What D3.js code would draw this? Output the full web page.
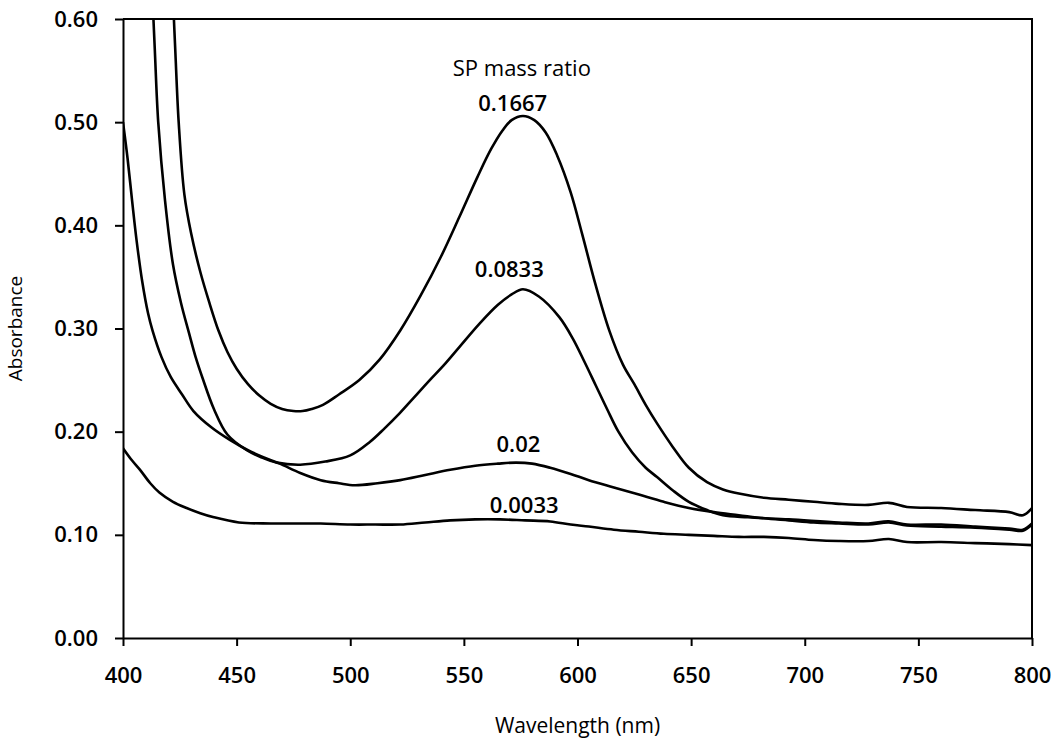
<!DOCTYPE html>
<html>
<head>
<meta charset="utf-8">
<script src="https://cdn.jsdelivr.net/npm/d3@7"></script>
<style>
  body { margin: 0; background: #fff; }
  svg text { font-family: 'Open Sans', sans-serif; fill: #000; }
</style>
</head>
<body>
<div class="chart"></div>
<script>
// absorbance spectra, [wavelength nm, absorbance]
const series002 = [
  [400, 0.500], [402, 0.465], [404, 0.424], [406, 0.385], [408.5, 0.345], [411, 0.315], [413, 0.298],
  [417, 0.272], [421, 0.253], [426, 0.236], [431, 0.220], [439, 0.204], [447, 0.192], [455, 0.182],
  [462, 0.175], [469, 0.169], [478, 0.160], [487, 0.153], [495, 0.150], [502, 0.148], [512, 0.150],
  [522, 0.153], [533, 0.158], [544, 0.163], [555, 0.167], [565, 0.169], [573, 0.170], [580, 0.169],
  [588, 0.165], [597, 0.159], [605, 0.153], [616, 0.146], [627, 0.139], [638, 0.132], [649, 0.126],
  [660, 0.122], [671, 0.119], [682, 0.116], [693, 0.114], [704, 0.112], [715, 0.111], [728, 0.110],
  [737, 0.112], [745, 0.109], [760, 0.108], [775, 0.107], [790, 0.105], [796, 0.104], [800, 0.110]
];
const series00833 = [
  [413, 0.620], [414, 0.570], [415.5, 0.500], [418.5, 0.424], [422, 0.362], [425.5, 0.325], [429, 0.296],
  [432, 0.272], [435, 0.252], [440, 0.222], [446, 0.197], [454.5, 0.182], [461, 0.175],
  [467.7, 0.170], [478, 0.168], [489, 0.171], [500, 0.177], [508.6, 0.190], [515, 0.203], [521.8, 0.218],
  [528, 0.233], [535, 0.250], [541, 0.264], [548, 0.282], [557, 0.305], [565, 0.323], [571, 0.333],
  [576, 0.338], [583, 0.331], [592, 0.311], [598, 0.290], [603, 0.268], [608, 0.245], [613, 0.222],
  [618, 0.200], [624, 0.180], [630, 0.165], [635, 0.156], [642, 0.143], [649, 0.132], [657, 0.124],
  [664, 0.119], [675, 0.117], [693, 0.115], [715, 0.112], [728, 0.111], [737, 0.113], [745, 0.110],
  [760, 0.110], [775, 0.108], [790, 0.106], [796, 0.105], [800, 0.111]
];
const series01667 = [
  [422, 0.620], [423, 0.570], [424.5, 0.500], [427, 0.430], [430, 0.392], [434, 0.355], [438, 0.325],
  [442, 0.298], [446, 0.277], [450, 0.261], [455, 0.246], [460, 0.235], [465, 0.227], [470, 0.222],
  [475, 0.220], [479, 0.220], [483, 0.222], [488, 0.226], [495, 0.236], [504, 0.250], [513, 0.270],
  [522, 0.298], [531, 0.332], [540, 0.370], [548, 0.408], [556, 0.447], [562, 0.474], [567, 0.492],
  [571, 0.502], [576, 0.506], [581, 0.502], [586, 0.490], [591, 0.468], [597, 0.432], [602, 0.392],
  [608, 0.342], [614, 0.298], [620, 0.265], [625, 0.246], [630, 0.226], [635, 0.208], [642, 0.185],
  [649, 0.165], [657, 0.151], [664, 0.144], [671, 0.140], [682, 0.136], [693, 0.134], [704, 0.132],
  [715, 0.130], [728, 0.129], [737, 0.131], [745, 0.127], [760, 0.126], [775, 0.124], [790, 0.122],
  [796, 0.119], [800, 0.126]
];
const series00033 = [
  [400, 0.184], [404, 0.172], [407.5, 0.163], [412, 0.150], [416, 0.141], [422, 0.132], [428, 0.126],
  [434, 0.121], [440, 0.117], [451, 0.112], [465, 0.111], [478, 0.111], [487, 0.111], [500, 0.110],
  [511, 0.110], [522, 0.110], [533, 0.112], [544, 0.114], [555, 0.115], [566, 0.115], [577, 0.114],
  [588, 0.113], [597, 0.110], [605, 0.108], [616, 0.105], [627, 0.103], [638, 0.101], [649, 0.100],
  [660, 0.099], [671, 0.098], [682, 0.098], [693, 0.097], [704, 0.095], [715, 0.094], [728, 0.094],
  [737, 0.096], [745, 0.093], [760, 0.093], [775, 0.092], [790, 0.091], [800, 0.090]
];

const xTicks = [400, 450, 500, 550, 600, 650, 700, 750, 800];
const yTicks = [0, 0.1, 0.2, 0.3, 0.4, 0.5, 0.6];

// label: text, anchor wavelength, anchor absorbance
const curveLabels = [
  ['0.1667', 571.5, 0.511],
  ['0.0833', 570, 0.350],
  ['0.02', 574, 0.180],
  ['0.0033', 576.5, 0.121]
];

const margin = { top: 19, right: 30, bottom: 104, left: 123 };
const width = 1062 - margin.left - margin.right;
const height = 742 - margin.top - margin.bottom;

const svg = d3.select('.chart')
  .append('svg')
  .attr('width', 1062)
  .attr('height', 742)
  .append('g')
  .attr('transform', `translate(${margin.left},${margin.top})`);

const x = d3.scaleLinear().domain([400, 800]).range([0, width]);
const y = d3.scaleLinear().domain([0, 0.6]).range([height, 0]);

svg.append('clipPath').attr('id', 'plot-clip')
  .append('rect').attr('width', width).attr('height', height);

// frame (top and right borders)
svg.append('path')
  .attr('d', `M0,0H${width}V${height}`)
  .attr('fill', 'none')
  .attr('stroke', '#000')
  .attr('stroke-width', 2);

const xAxis = svg.append('g')
  .attr('transform', `translate(0,${height})`)
  .call(d3.axisBottom(x).tickValues(xTicks).tickSize(8).tickSizeOuter(0).tickPadding(26).tickFormat(d3.format('d')));

const yAxis = svg.append('g')
  .call(d3.axisLeft(y).tickValues(yTicks).tickSize(8).tickSizeOuter(0).tickPadding(17).tickFormat(d3.format('.2f')));

[xAxis, yAxis].forEach(a => {
  a.select('.domain').attr('stroke-width', 2);
  a.selectAll('.tick line').attr('stroke-width', 2);
  a.selectAll('.tick text')
    .style('font-size', '22px')
    .style('font-weight', 600);
});
xAxis.selectAll('.tick text').attr('dy', '0.5em');

const line = d3.line()
  .x(d => x(d[0]))
  .y(d => y(d[1]))
  .curve(d3.curveCatmullRom.alpha(0.5));

svg.append('g')
  .attr('clip-path', 'url(#plot-clip)')
  .selectAll('path')
  .data([series002, series00833, series01667, series00033])
  .enter()
  .append('path')
  .attr('fill', 'none')
  .attr('stroke', '#000')
  .attr('stroke-width', 2.6)
  .attr('stroke-linejoin', 'round')
  .attr('d', line);

svg.selectAll('.curve-label')
  .data(curveLabels)
  .enter()
  .append('text')
  .attr('class', 'curve-label')
  .attr('x', d => x(d[1]))
  .attr('y', d => y(d[2]))
  .attr('text-anchor', 'middle')
  .style('font-size', '22px')
  .style('font-weight', 600)
  .text(d => d[0]);

svg.append('text')
  .attr('x', x(575.5))
  .attr('y', y(0.545))
  .attr('text-anchor', 'middle')
  .style('font-size', '22px')
  .text('SP mass ratio');

svg.append('text')
  .attr('x', width / 2)
  .attr('y', height + 95)
  .attr('text-anchor', 'middle')
  .style('font-size', '21px')
  .text('Wavelength (nm)');

svg.append('text')
  .attr('transform', `translate(${-101},${height / 2}) rotate(-90)`)
  .attr('text-anchor', 'middle')
  .style('font-size', '19px')
  .text('Absorbance');
</script>
</body>
</html>
